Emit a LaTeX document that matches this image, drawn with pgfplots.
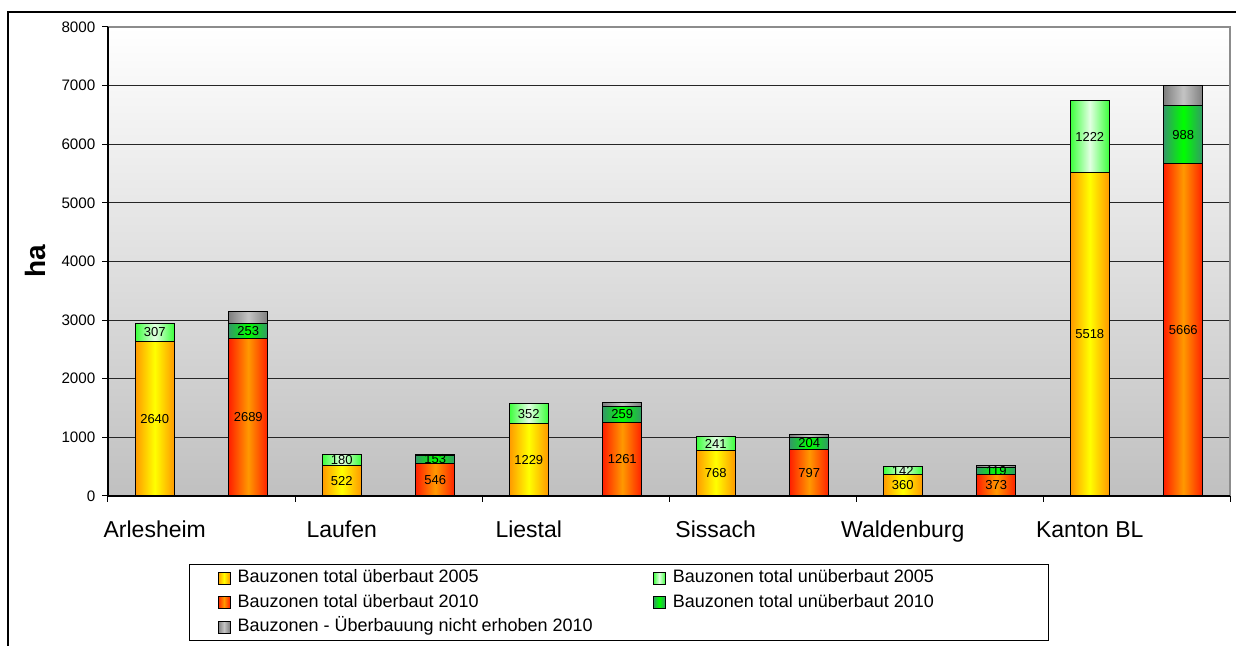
\documentclass[border=0pt]{standalone}
\usepackage{pgfplots}
\usepackage{pgfplotstable}
\pgfplotsset{compat=1.18}
\usepackage{fontspec}
\setmainfont{Liberation Sans}

\definecolor{ubYellow}{HTML}{FFFF00}
\definecolor{ubOrange}{HTML}{FF9900}
\definecolor{ubRed}{HTML}{FF2000}
\definecolor{unLightEdge}{HTML}{3CFF3C}
\definecolor{unLightMid}{HTML}{E2FFE2}
\definecolor{unDarkEdge}{HTML}{339966}
\definecolor{unDarkMid}{HTML}{00FF00}
\definecolor{neEdge}{HTML}{7F7F7F}
\definecolor{neMid}{HTML}{C4C4C4}
\definecolor{bgBottom}{HTML}{C0C0C0}

\tikzset{
  ub05/.style={draw=black, line width=0.5pt, left color=ubOrange, right color=ubOrange, middle color=ubYellow},
  un05/.style={draw=black, line width=0.5pt, left color=unLightEdge, right color=unLightEdge, middle color=unLightMid},
  ub10/.style={draw=black, line width=0.5pt, left color=ubRed, right color=ubRed, middle color=ubOrange},
  un10/.style={draw=black, line width=0.5pt, left color=unDarkEdge, right color=unDarkEdge, middle color=unDarkMid},
  ne10/.style={draw=black, line width=0.5pt, left color=neEdge, right color=neEdge, middle color=neMid},
  seglabel/.style={font=\fontsize{6.5}{7}\selectfont, text=black, inner sep=0pt, anchor=center},
}

% Bauzonen 2005 (ha): überbaut / unüberbaut
\pgfplotstableread{
x     ub    un
0.5   2640  307
2.5   522   180
4.5   1229  352
6.5   768   241
8.5   360   142
10.5  5518  1222
}\zonesA

% Bauzonen 2010 (ha): überbaut / unüberbaut / nicht erhoben
\pgfplotstableread{
x     ub    un    ne
1.5   2689  253   200
3.5   546   153   5
5.5   1261  259   75
7.5   797   204   45
9.5   373   119   25
11.5  5666  988   355
}\zonesB

% 561pt for 12 x-units, 234.5pt for 8000 ha
\newcommand{\halfbar}{9.75pt}
\newcommand{\ptperha}{0.0293125pt}

\pgfplotsset{
  zonebase/.style={
    scale only axis, width=561pt, height=234.5pt,
    at={(54pt,75pt)}, anchor=south west,
    xmin=0, xmax=12, ymin=0, ymax=8000,
    stack plots=y,
    /pgf/number format/assume math mode=true,
    /pgf/number format/1000 sep={},
  },
  % each point is the stacked top; its segment hangs below it
  seg/.style={
    forget plot, only marks, scatter,
    mark=square*, mark size=0pt, mark options={draw=none, fill=none},
    visualization depends on={rawy \as \seg},
    scatter/@post marker code/.code={},
  },
  bare segment/.style={seg,
    scatter/@pre marker code/.code={
      \path[#1] (-\halfbar,{-\seg*\ptperha}) rectangle (\halfbar,0pt);
    },
  },
  labelled segment/.style={seg,
    scatter/@pre marker code/.code={
      \path[#1] (-\halfbar,{-\seg*\ptperha}) rectangle (\halfbar,0pt);
      \node[seglabel] at (0pt,{-0.5*\seg*\ptperha}) {\pgfmathprintnumber[fixed,precision=0]{\seg}};
    },
  },
}

\begin{document}
\begin{tikzpicture}
\useasboundingbox (0pt,0pt) rectangle (618pt,323pt);

\begin{axis}[zonebase,
  axis background/.style={top color=white, bottom color=bgBottom},
  axis line style={draw=none},
  ymajorgrids, major grid style={black!85, line width=0.45pt},
  ytick={0,1000,...,8000},
  xtick={0,2,...,12}, xticklabels={},
  extra x ticks={0.5,2.5,4.5,6.5,8.5,10.5},
  extra x tick labels={Arlesheim,Laufen,Liestal,Sissach,Waldenburg,Kanton BL},
  extra x tick style={major tick length=0pt,
    xticklabel style={font=\fontsize{11.5}{13}\selectfont, anchor=base, yshift=-21pt}},
  tick align=outside, major tick length=2.8pt,
  tick style={black, line width=0.5pt},
  xtick pos=bottom, ytick pos=left,
  yticklabel style={font=\fontsize{7.6}{9}\selectfont},
  ylabel={ha},
  ylabel style={font=\bfseries\fontsize{14}{16}\selectfont,
    at={(axis description cs:-0.065,0.5)}, anchor=center},
  after end axis/.code={
    \draw[black!45, line width=0.7pt] (rel axis cs:0,1) -- (rel axis cs:1,1) -- (rel axis cs:1,0);
    \draw[black, line width=0.6pt] (rel axis cs:0,1) -- (rel axis cs:0,0) -- (rel axis cs:1,0);
  },
]
\addplot[labelled segment=ub05] table[x=x, y=ub] {\zonesA};
\addplot[labelled segment=un05] table[x=x, y=un] {\zonesA};
\end{axis}

\begin{axis}[zonebase, hide axis,
  legend image code/.code={\draw[#1] (0pt,-3pt) rectangle (6pt,3pt);},
  legend columns=2,
  legend cell align=left,
  legend style={at={(axis description cs:0.0722,-0.145)}, anchor=north west,
    draw=black, line width=0.5pt, fill=white,
    inner xsep=14pt, inner ysep=2.8pt,
    font=\fontsize{9}{10}\selectfont,
    nodes={inner xsep=0pt, inner ysep=0pt, text height=6.3pt, text depth=1.8pt},
    row sep=4.15pt,
    /tikz/every odd column/.append style={column sep=3.5pt},
    /tikz/every even column/.append style={column sep=30pt},
  },
]
\addplot[labelled segment=ub10] table[x=x, y=ub] {\zonesB};
\addplot[labelled segment=un10] table[x=x, y=un] {\zonesB};
\addplot[bare segment=ne10] table[x=x, y=ne] {\zonesB};
\addlegendimage{ub05}
\addlegendentry{Bauzonen total überbaut 2005}
\addlegendimage{un05}
\addlegendentry{Bauzonen total unüberbaut 2005\hspace*{43pt}}
\addlegendimage{ub10}
\addlegendentry{Bauzonen total überbaut 2010}
\addlegendimage{un10}
\addlegendentry{Bauzonen total unüberbaut 2010}
\addlegendimage{ne10}
\addlegendentry{Bauzonen - Überbauung nicht erhoben 2010}
\end{axis}

% surrounding chart frame
\draw[black, line width=0.6pt] (4pt,-5pt) -- (4pt,317pt) -- (630pt,317pt);
\end{tikzpicture}
\end{document}
